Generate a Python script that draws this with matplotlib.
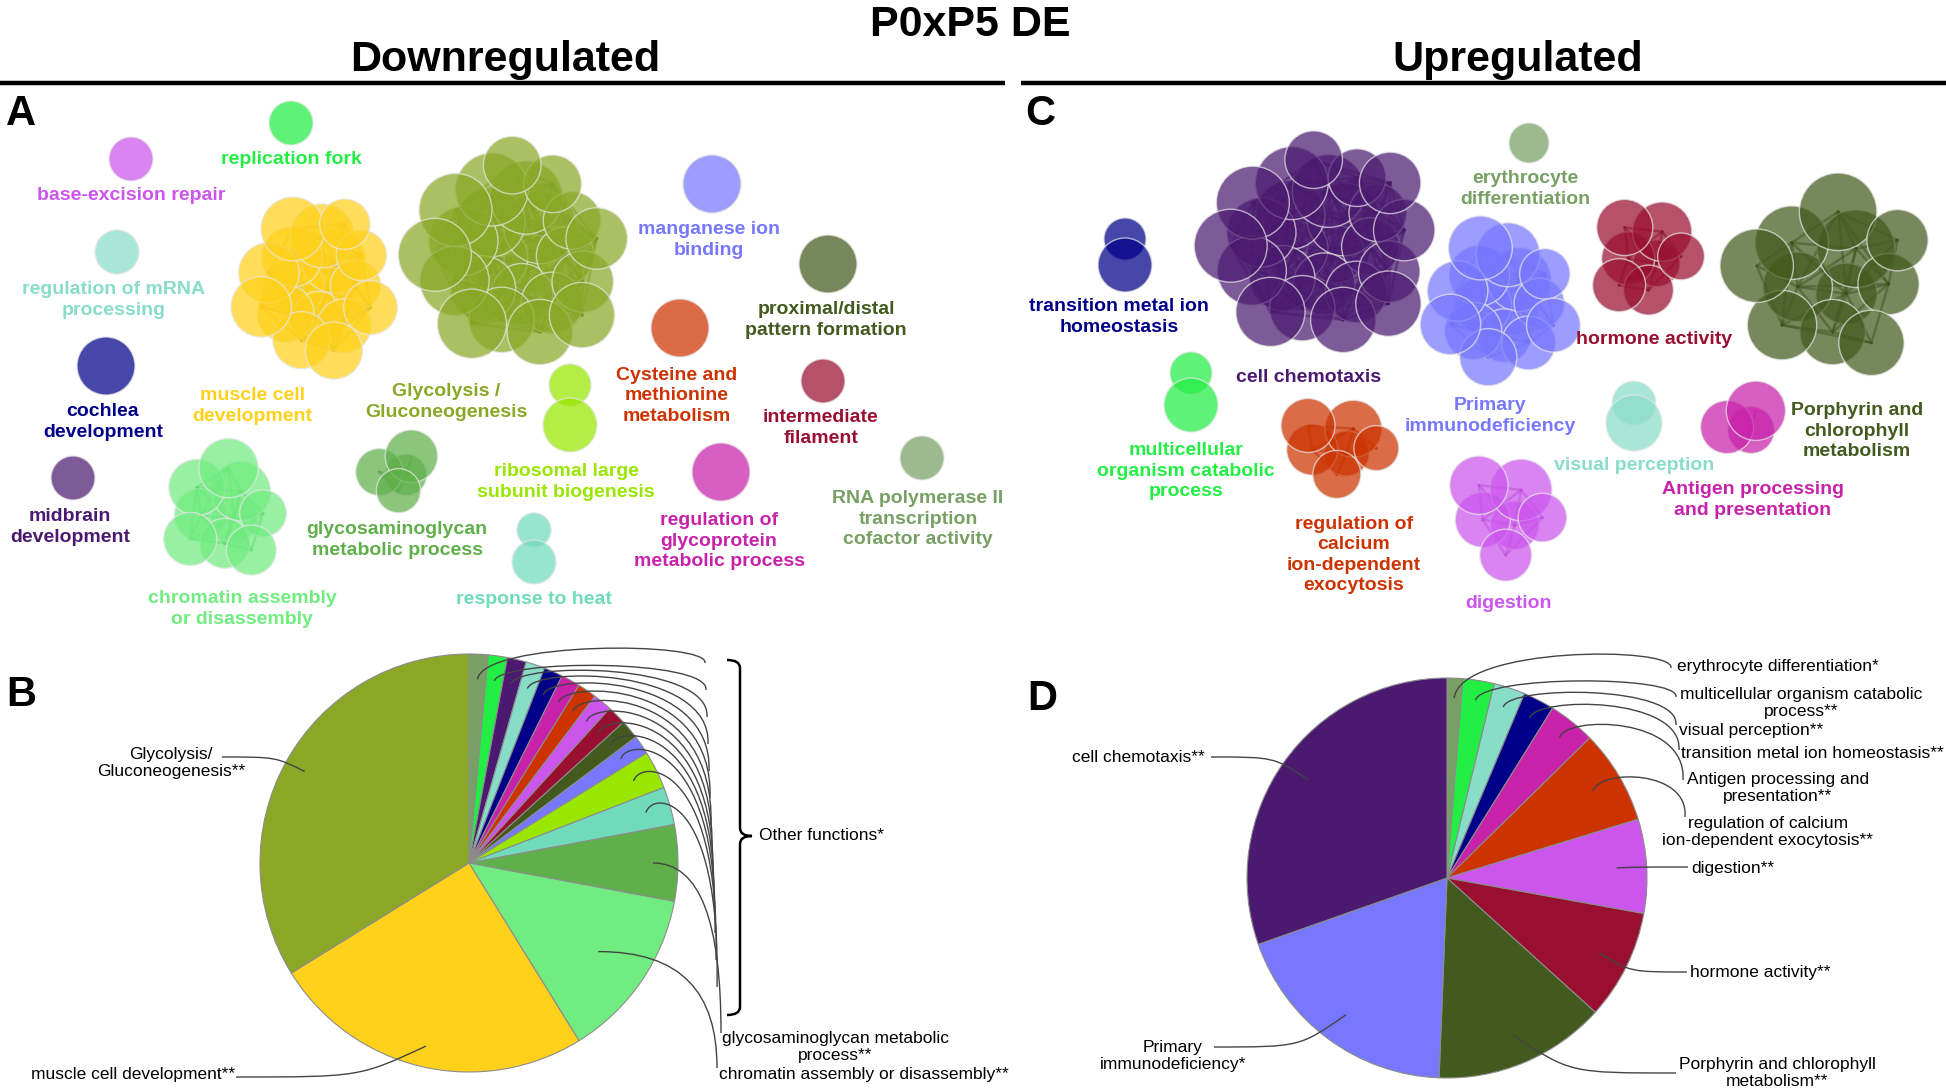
import numpy as np
import matplotlib
matplotlib.use('Agg')
import matplotlib.pyplot as plt
import matplotlib.colors as mcolors
from matplotlib.path import Path
from matplotlib.patches import PathPatch, Circle

plt.rcParams['font.family'] = ['Liberation Sans', 'DejaVu Sans']

# ---- data: downregulated clusters (pie order, clockwise from top) ----
down_terms = ['RNA polymerase II\ntranscription\ncofactor activity', 'replication fork',
              'midbrain\ndevelopment', 'regulation of mRNA\nprocessing', 'cochlea\ndevelopment',
              'regulation of\nglycoprotein\nmetabolic process', 'Cysteine and\nmethionine\nmetabolism',
              'base-excision repair', 'intermediate\nfilament', 'proximal/distal\npattern formation',
              'manganese ion\nbinding', 'ribosomal large\nsubunit biogenesis', 'response to heat',
              'glycosaminoglycan\nmetabolic process', 'chromatin assembly\nor disassembly',
              'muscle cell\ndevelopment', 'Glycolysis /\nGluconeogenesis']
down_counts = [1, 1, 1, 1, 1, 1, 1, 1, 1, 1, 1, 2, 2, 4, 9, 17, 23]
down_colors = ['#78a064', '#22ee44', '#4b1a70', '#88ddc8', '#000088', '#c822aa', '#cc3300',
               '#cc55ee', '#990f30', '#435a1e', '#7777ff', '#99e600', '#70dbbb', '#5fb04a',
               '#70ec80', '#ffd11a', '#8aa826']
down_pie_labels = {13: 'glycosaminoglycan metabolic\nprocess**',
                   14: 'chromatin assembly or disassembly**',
                   15: 'muscle cell development**',
                   16: 'Glycolysis/\nGluconeogenesis**'}
down_other = 'Other functions*'

# ---- data: upregulated clusters (pie order, clockwise from top) ----
up_terms = ['erythrocyte\ndifferentiation', 'multicellular\norganism catabolic\nprocess',
            'visual perception', 'transition metal ion\nhomeostasis', 'Antigen processing\nand presentation',
            'regulation of\ncalcium\nion-dependent\nexocytosis', 'digestion', 'hormone activity',
            'Porphyrin and\nchlorophyll\nmetabolism', 'Primary\nimmunodeficiency', 'cell chemotaxis']
up_counts = [1, 2, 2, 2, 3, 6, 6, 7, 11, 15, 24]
up_colors = ['#78a064', '#22ee44', '#88ddc8', '#000088', '#c822aa', '#cc3300', '#cc55ee',
             '#990f30', '#435a1e', '#7777ff', '#4b1a70']
up_pie_labels = ['erythrocyte differentiation*', 'multicellular organism catabolic\nprocess**',
                 'visual perception**', 'transition metal ion homeostasis**',
                 'Antigen processing and\npresentation**', 'regulation of calcium\nion-dependent exocytosis**',
                 'digestion**', 'hormone activity**', 'Porphyrin and chlorophyll\nmetabolism**',
                 'Primary\nimmunodeficiency*', 'cell chemotaxis**']

# ---- layout (pixels, top-left origin) ----
# cluster: centre x, centre y, spread x, spread y, node radius
down_layout = [(922, 458, 0, 0, 22), (291, 123, 0, 0, 22), (73, 478, 0, 0, 22), (117, 252, 0, 0, 22),
               (106, 366, 0, 0, 29), (721, 472, 0, 0, 29), (680, 328, 0, 0, 29), (131, 159, 0, 0, 22),
               (823, 381, 0, 0, 22), (828, 264, 0, 0, 29), (712, 184, 0, 0, 29), (570, 405, 0, 20, 27),
               (534, 546, 0, 16, 22), (397, 470, 28, 22, 23), (223, 512, 50, 48, 26),
               (317, 284, 64, 70, 28), (520, 254, 86, 94, 32)]
down_label_xy = [(918, 519), (291, 160), (70, 527), (114, 300), (103, 422), (719, 541), (677, 396),
                 (131, 195), (821, 428), (826, 320), (709, 240), (566, 482), (534, 599), (397, 540),
                 (242, 609), (252, 406), (446, 402)]
up_layout = [(1529, 143, 0, 0, 20), (1191, 389, 0, 16, 27), (1634, 413, 0, 10, 28), (1125, 252, 0, 13, 27),
             (1743, 425, 22, 20, 26), (1335, 447, 43, 35, 25), (1504, 516, 40, 50, 27),
             (1647, 255, 38, 48, 26), (1830, 282, 80, 84, 34), (1503, 302, 57, 65, 28),
             (1322, 245, 94, 92, 32)]
up_label_xy = [(1525, 189), (1186, 471), (1634, 465), (1119, 317), (1753, 500), (1354, 555),
               (1509, 603), (1654, 339), (1857, 431), (1490, 416), (1309, 378)]

fig = plt.figure(figsize=(19.46, 10.91), dpi=100)
ax = fig.add_axes([0, 0, 1, 1])


def node_positions(n, cx, cy, sx, sy):
    if n == 1:
        return [(cx, cy)]
    if n == 2:
        return [(cx, cy - sy), (cx, cy + sy)]
    pts = []
    for k in range(n):
        rr = ((k + 0.5) / n) ** 0.45
        a = k * 2.39996 + 0.6
        pts.append((cx + sx * rr * np.cos(a), cy + sy * rr * np.sin(a)))
    return pts


def draw_network(counts, colors, layout, labels, label_xy):
    for n, col, lay, lab, lxy in zip(counts, colors, layout, labels, label_xy):
        cx, cy, sx, sy, r = lay
        pts = node_positions(n, cx, cy, sx, sy)
        dark = tuple(np.array(mcolors.to_rgb(col)) * 0.72)
        lim = 1.1 * max(sx, sy, 1)
        for i in range(n):
            for j in range(i + 1, n):
                d = np.hypot(pts[i][0] - pts[j][0], pts[i][1] - pts[j][1])
                if d < lim:
                    ax.plot([pts[i][0], pts[j][0]], [pts[i][1], pts[j][1]], color=dark,
                            alpha=0.5, lw=1.8, zorder=2)
        for k, (x, y) in enumerate(pts):
            if n == 1:
                rad = r
            elif n == 2:
                rad = r * (0.78 if k == 0 else 1.0)
            else:
                rad = r * (0.9 + 0.24 * ((k * 7) % 5) / 4)
            ax.add_patch(Circle((x, y), rad, facecolor=col, alpha=0.72, edgecolor='#e6e6e6',
                                lw=1.0, zorder=3))
        ax.text(lxy[0], lxy[1], lab, ha='center', va='center', fontsize=14, fontweight='bold',
                color=col, linespacing=1.25, zorder=5)


draw_network(down_counts, down_colors, down_layout, down_terms, down_label_xy)
draw_network(up_counts, up_colors, up_layout, up_terms, up_label_xy)


def curve(p0, p1, p2, p3, lw=1.0, color='#444444'):
    path = Path([p0, p1, p2, p3], [Path.MOVETO, Path.CURVE4, Path.CURVE4, Path.CURVE4])
    ax.add_patch(PathPatch(path, facecolor='none', edgecolor=color, lw=lw, zorder=6))


def leader(p0, p3, kind):
    dx, dy = p3[0] - p0[0], p3[1] - p0[1]
    if kind == 'arch':
        top = min(p0[1], p3[1]) - 22
        curve(p0, (p0[0] + 6, top), (p3[0] + 4, top), p3)
    elif kind == 'drop':
        curve(p0, (p0[0] + 0.7 * dx, p0[1]), (p3[0], p0[1] + 0.35 * dy), p3)
    else:
        c = (p0[0] + 0.35 * dx, p3[1])
        curve(p0, c, c, p3)


def anchor(w, center, r, f):
    a = np.deg2rad((w.theta1 + w.theta2) / 2)
    return (center[0] + f * r * np.cos(a), center[1] + f * r * np.sin(a))


# ---- pie B ----
cB, rB = (469, 863), 209
wB, _ = ax.pie(down_counts, colors=down_colors, startangle=270, counterclock=True, center=cB,
               radius=rB, wedgeprops=dict(edgecolor='#8c8c8c', linewidth=0.8))
for i in range(13):
    a = anchor(wB[i], cB, rB, 0.88)
    leader(a, (705 + 1.0 * i, 663 + 27 * i), 'arch')
leader(anchor(wB[13], cB, rB, 0.88), (721, 1033), 'drop')
leader(anchor(wB[14], cB, rB, 0.75), (717, 1068), 'drop')
leader(anchor(wB[15], cB, rB, 0.9), (236, 1077), 'elbow')
leader(anchor(wB[16], cB, rB, 0.9), (222, 757), 'elbow')
ax.text(835, 1047, down_pie_labels[13], ha='center', va='center', fontsize=12.5, linespacing=1.15)
ax.text(719, 1074, down_pie_labels[14], ha='left', va='center', fontsize=12.5)
ax.text(235, 1074, down_pie_labels[15], ha='right', va='center', fontsize=12.5)
ax.text(171, 763, down_pie_labels[16], ha='center', va='center', fontsize=12.5, linespacing=1.15)
brace = Path([(727, 660), (740, 660), (740, 668), (740, 828), (740, 836), (752, 836),
              (740, 836), (740, 844), (740, 1007), (740, 1015), (727, 1015)],
             [Path.MOVETO, Path.CURVE3, Path.CURVE3, Path.LINETO, Path.CURVE3, Path.CURVE3,
              Path.CURVE3, Path.CURVE3, Path.LINETO, Path.CURVE3, Path.CURVE3])
ax.add_patch(PathPatch(brace, facecolor='none', edgecolor='black', lw=1.8, zorder=6))
ax.text(759, 836, down_other, ha='left', va='center', fontsize=12.5)

# ---- pie D ----
cD, rD = (1447, 878), 200
wD, _ = ax.pie(up_counts, colors=up_colors, startangle=270, counterclock=True, center=cD,
               radius=rD, wedgeprops=dict(edgecolor='#8c8c8c', linewidth=0.8))
up_text = [(1677, 667, 'left'), (1801, 703, 'center'), (1679, 731, 'left'), (1681, 753, 'left'),
           (1778, 788, 'center'), (1768, 832, 'center'), (1691, 869, 'left'), (1690, 973, 'left'),
           (1777, 1073, 'center'), (1173, 1056, 'center'), (1205, 758, 'right')]
up_ends = [(1671, 668), (1676, 697), (1676, 725), (1679, 750), (1683, 780), (1685, 817),
           (1688, 867), (1687, 972), (1676, 1073), (1214, 1047), (1211, 757)]
up_kinds = ['arch', 'arch', 'arch', 'arch', 'arch', 'arch', 'elbow', 'elbow', 'elbow', 'elbow', 'elbow']
for i, w in enumerate(wD):
    f = 0.9 if up_counts[i] < 5 else 0.85
    leader(anchor(w, cD, rD, f), up_ends[i], up_kinds[i])
    tx, ty, ha = up_text[i]
    ax.text(tx, ty, up_pie_labels[i], ha=ha, va='center', fontsize=12.5, linespacing=1.15)

# ---- titles, rules and panel letters ----
ax.text(970, 36, 'P0xP5 DE', ha='center', va='baseline', fontsize=31, fontweight='bold')
ax.text(505, 71, 'Downregulated', ha='center', va='baseline', fontsize=31, fontweight='bold')
ax.text(1518, 71, 'Upregulated', ha='center', va='baseline', fontsize=31, fontweight='bold')
ax.plot([0, 1005], [83, 83], color='black', lw=3.2, solid_capstyle='butt')
ax.plot([1021, 1946], [83, 83], color='black', lw=3.2, solid_capstyle='butt')
for letter, x, y in [('A', 6, 125), ('C', 1025, 125), ('B', 6, 706), ('D', 1027, 710)]:
    ax.text(x, y, letter, ha='left', va='baseline', fontsize=30, fontweight='bold')

ax.set_xlim(0, 1946)
ax.set_ylim(1091, 0)
ax.set_aspect('equal')
ax.axis('off')
fig.savefig('out.png', dpi=100)
